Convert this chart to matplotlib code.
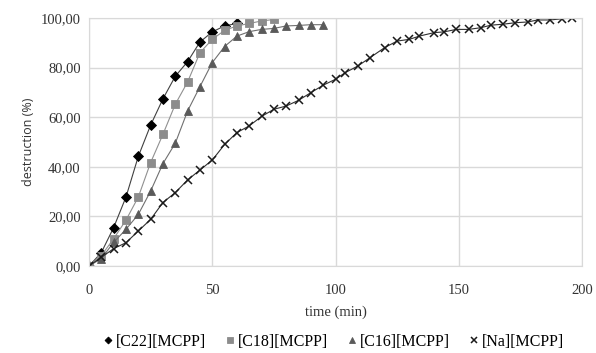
import matplotlib.pyplot as plt
from matplotlib.ticker import FuncFormatter

# Data
t_c22 = [0, 5, 10, 15, 20, 25, 30, 35, 40, 45, 50, 55, 60]
c22 = [0, 5.4, 15.5, 27.8, 44.2, 56.8, 67.4, 76.5, 82.4, 90.3, 94.4, 96.8, 97.8]

t_c18 = [0, 5, 10, 15, 20, 25, 30, 35, 40, 45, 50, 55, 60, 65, 70, 75]
c18 = [0, 4.2, 11.0, 18.5, 27.8, 41.7, 53.1, 65.2, 74.2, 86.0, 91.4, 95.0, 96.8, 97.8, 98.8, 99.4]

t_c16 = [0, 5, 10, 15, 20, 25, 30, 35, 40, 45, 50, 55, 60, 65, 70, 75, 80, 85, 90, 95]
c16 = [0, 3.0, 9.5, 14.8, 20.8, 30.2, 41.3, 49.5, 62.5, 72.3, 82.0, 88.5, 92.7, 94.5,
       95.4, 95.8, 96.8, 97.0, 97.3, 97.3]

t_na = [0, 5, 10, 15, 20, 25, 30, 35, 40, 45, 50, 55, 60, 65, 70, 75, 80, 85, 90, 95,
        100, 104, 109, 114, 120, 125, 130, 134, 140, 144, 149, 154, 159, 163, 168,
        173, 178, 182, 187, 192, 196]
na = [0, 3.5, 7.0, 9.4, 14.1, 18.8, 25.6, 29.6, 34.7, 38.7, 42.7, 49.0, 53.8, 56.5,
      60.3, 63.2, 64.5, 66.8, 69.9, 72.9, 75.3, 78.0, 80.6, 84.0, 88.1, 90.7, 91.4,
      92.7, 94.1, 94.4, 95.4, 95.4, 96.1, 97.1, 97.5, 98.1, 98.4, 99.2, 99.2, 99.7, 100.0]

serif = 'Liberation Serif'

fig = plt.figure(figsize=(5.96, 3.53), dpi=100)
ax = fig.add_axes([89 / 596, 1 - 266 / 353, (582 - 89) / 596, (266 - 18) / 353])

line_kw = dict(lw=0.8, markeredgewidth=0.6)
ax.plot(t_c22, c22, color='#404040', marker='D', ms=5.0, mfc='black', mec='black',
        label='[C22][MCPP]', **line_kw)
ax.plot(t_c18, c18, color='#909090', marker='s', ms=6.0, mfc='#8c8c8c', mec='#8c8c8c',
        label='[C18][MCPP]', **line_kw)
ax.plot(t_c16, c16, color='#707070', marker='^', ms=6.0, mfc='#5a5a5a', mec='#5a5a5a',
        label='[C16][MCPP]', **line_kw)
ax.plot(t_na, na, color='#303030', marker='x', ms=5.5, mec='#1a1a1a',
        label='[Na][MCPP]', lw=0.8, markeredgewidth=1.1)

ax.set_xlim(0, 200)
ax.set_ylim(0, 100)
ax.set_xticks([0, 50, 100, 150, 200])
ax.set_yticks([0, 20, 40, 60, 80, 100])
ax.yaxis.set_major_formatter(FuncFormatter(lambda v, p: f'{v:.2f}'.replace('.', ',')))
ax.grid(True, color='#d9d9d9', lw=1.0)
ax.set_axisbelow(True)
for s in ax.spines.values():
    s.set_color('#d9d9d9')
ax.tick_params(length=0, labelsize=10.5, colors='#333333')
ax.tick_params(axis='x', pad=13)
ax.tick_params(axis='y', pad=6)
for lab in ax.get_xticklabels() + ax.get_yticklabels():
    lab.set_family(serif)

ax.set_xlabel('time (min)', family=serif, fontsize=10.5, color='#333333', labelpad=6)
ax.set_ylabel('destruction (%)', family='Open Sans', fontsize=9, color='#333333', labelpad=4)

fig.legend(loc='center', bbox_to_anchor=(0.56, 1 - 342 / 353), ncol=4, frameon=False,
           prop={'family': serif, 'size': 11.5}, handlelength=0.6, handletextpad=0.2,
           columnspacing=1.2, markerscale=0.7, borderpad=0)
leg = fig.legends[0]
for h in leg.legend_handles:
    h.set_linestyle('none')

fig.savefig('out.png', dpi=100)
